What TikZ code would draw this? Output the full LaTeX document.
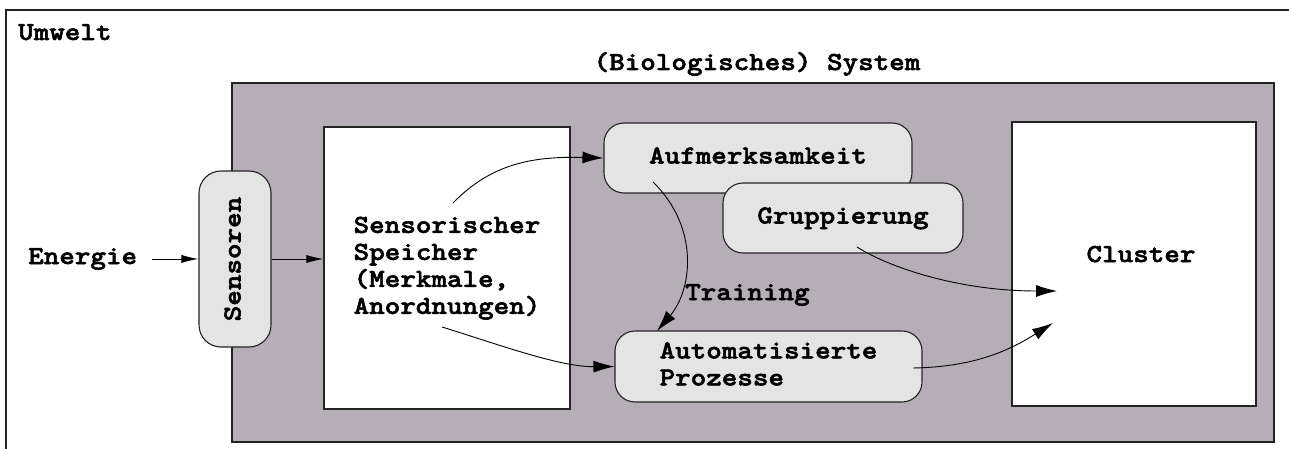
\documentclass[tikz,border=0pt]{standalone}
\usepackage{fontspec}
\usetikzlibrary{arrows.meta}
% heavy, slightly widened typewriter face for all lettering
\newfontfamily\typefont{lmmonolt10-bold.otf}[FakeBold=2, FakeStretch=1.14]
\definecolor{sysgray}{RGB}{181,174,182}
\definecolor{boxgray}{RGB}{228,228,228}
\definecolor{edgecol}{RGB}{35,35,35}
\newcommand\lines[1]{\begin{tabular}{@{}l@{}}#1\end{tabular}}
\begin{document}
\begin{tikzpicture}[x=1pt,y=-1pt,
  every node/.style={font=\fontsize{26}{27}\typefont, inner sep=0pt},
  sysbox/.style={draw=edgecol, line width=1.2pt, fill=sysgray},
  plainbox/.style={draw=edgecol, line width=1.1pt, fill=white},
  softbox/.style={draw=edgecol, line width=1.1pt, fill=boxgray, rounded corners=20pt},
  oneline/.style={text height=16pt, text depth=5pt},
  arr/.style={line width=0.9pt, draw=black, -{Latex[length=17pt,width=8pt]}},
  bigarr/.style={line width=0.9pt, draw=black, -{Latex[length=21pt,width=12pt]}}]
\useasboundingbox (0,0) rectangle (1289,449);
\fill[white] (0,0) rectangle (1289,449);

% environment frame (continues beyond the page)
\draw[line width=1.3pt, draw=edgecol] (6,449) -- (6,10) -- (1289,10);
\node[anchor=base west] (umwelt) at (18,40) {Umwelt};

% system
\node[sysbox, minimum width=1042pt, minimum height=359pt] (sys) at (753,262.5) {};
\node[anchor=base] (systitle) at (757,70) {(Biologisches) System};

% components
\node[plainbox, minimum width=246pt, minimum height=282pt] (sp) at (447,268)
  {\lines{Sensorischer\\Speicher\\(Merkmale,\\Anordnungen)}};
\node[softbox, oneline, rounded corners=22pt, rotate=90,
      minimum width=176pt, minimum height=72pt] (sen) at (235,259) {Sensoren};
\node[softbox, oneline, minimum width=308pt, minimum height=70pt] (au) at (758,158)
  {Aufmerksamkeit};
\node[softbox, oneline, minimum width=240pt, minimum height=70pt] (gr) at (843,218)
  {Gruppierung};
\node[softbox, minimum width=307pt, minimum height=71pt] (ap) at (768.5,366.5)
  {\lines{Automatisierte\\Prozesse}};
\node[plainbox, minimum width=244pt, minimum height=284pt] (cl) at (1134,264) {};
\node[anchor=base] (cltext) at (1141,262) {Cluster};

\node[anchor=base west] (en) at (28,264) {Energie};
\node[anchor=base west] (tr) at (685,300) {Training};

% connector end points inside the boxes
\coordinate (s1) at (453,203);
\coordinate (s2) at (442,327);
\coordinate (t1) at (653,182);
\coordinate (t2) at (657,331);
\coordinate (g1) at (857,247);
\coordinate (c1) at (1057,291);
\coordinate (p1) at (913,368);
\coordinate (c2) at (1053,323);

% connectors
\draw[arr] ([xshift=15pt]en.east) -- (en.east -| sen.north);
\draw[arr] (sen.south) -- (sen.south -| sp.west);
\draw[bigarr] (s1) .. controls (490,165) and (530,156) .. (au.west);
\draw[bigarr] (s2) .. controls (500,345) and (560,367) .. (ap.west);
\draw[bigarr] (t1) .. controls (700,228) and (692,290) .. (t2);
\draw[bigarr] (g1) .. controls (890,268) and (960,291) .. (c1);
\draw[bigarr] (p1) .. controls (975,367) and (1010,350) .. (c2);
\end{tikzpicture}
\end{document}
